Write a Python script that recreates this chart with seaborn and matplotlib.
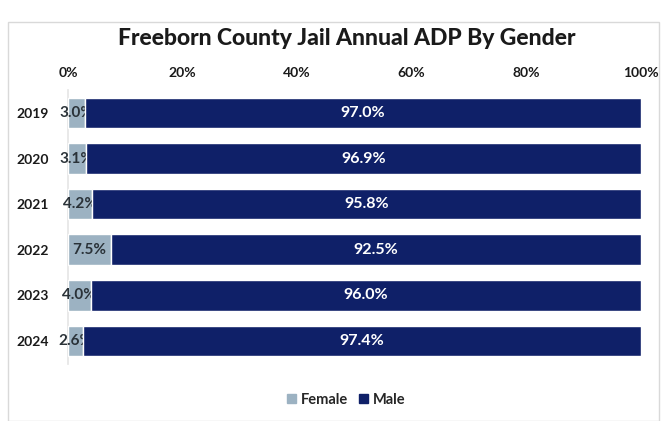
import matplotlib.pyplot as plt
import matplotlib.patches as mpatches
import pandas as pd
import seaborn as sns


years = ["2019", "2020", "2021", "2022", "2023", "2024"]
female = [3.0, 3.1, 4.2, 7.5, 4.0, 2.6]
male = [97.0, 96.9, 95.8, 92.5, 96.0, 97.4]

FEMALE_COLOR = "#9cb2c2"
MALE_COLOR = "#0f2068"

sns.set_theme(style="white")
plt.rcParams["font.family"] = ["Lato", "DejaVu Sans"]

df = pd.DataFrame({"year": years, "female": female, "male": male})

fig = plt.figure(figsize=(6.66, 4.21), dpi=100)
ax = fig.add_axes([0.102, 0.136, 0.86, 0.65])

# female segment from 0, male segment stacked after it (drawn over the female labels)
sns.barplot(data=df, x="female", y="year", color=FEMALE_COLOR, width=0.67,
            saturation=1, orient="h", ax=ax, zorder=1)
ax.barh(range(len(years)), df["male"], left=df["female"], height=0.67,
        color=MALE_COLOR, zorder=3)

for i, (f, m) in enumerate(zip(female, male)):
    ax.text(f / 2, i, f"{f:.1f}%", ha="center", va="center", zorder=2,
            fontsize=11, fontweight="bold", color="#2a3238")
    ax.text(f + m / 2, i, f"{m:.1f}%", ha="center", va="center", zorder=4,
            fontsize=11.5, fontweight="bold", color="white")

ax.set_xlim(0, 100)
ax.set_ylim(5.5, -0.5)
ax.xaxis.tick_top()
ax.set_xticks(range(0, 101, 20))
ax.set_xticklabels([f"{t}%" for t in range(0, 101, 20)])
ax.tick_params(axis="both", length=0, labelsize=10, pad=8)
ax.tick_params(axis="y", pad=14)
for lab in ax.get_xticklabels() + ax.get_yticklabels():
    lab.set_fontweight("bold")
    lab.set_color("#1a1a1a")
ax.set_xlabel("")
ax.set_ylabel("")
for side in ["top", "right", "bottom"]:
    ax.spines[side].set_visible(False)
ax.spines["left"].set_color("#e6e6e6")
ax.spines["left"].set_zorder(0)

fig.text(0.52, 0.908, "Freeborn County Jail Annual ADP By Gender", ha="center",
         va="center", fontsize=16.5, fontweight="black", color="#1a1a1a")

handles = [mpatches.Patch(color=FEMALE_COLOR, label="Female"),
           mpatches.Patch(color=MALE_COLOR, label="Male")]
fig.legend(handles=handles, loc="center", bbox_to_anchor=(0.52, 0.05), ncol=2,
           frameon=False, handlelength=0.6, handleheight=0.6, handletextpad=0.3,
           columnspacing=0.8, prop={"weight": "bold", "size": 10.5})

fig.patches.append(mpatches.Rectangle((0.012, 0.0), 0.978, 0.948,
                                      transform=fig.transFigure, fill=False,
                                      edgecolor="#d9d9d9", linewidth=1))

fig.savefig("out.png", dpi=100)
